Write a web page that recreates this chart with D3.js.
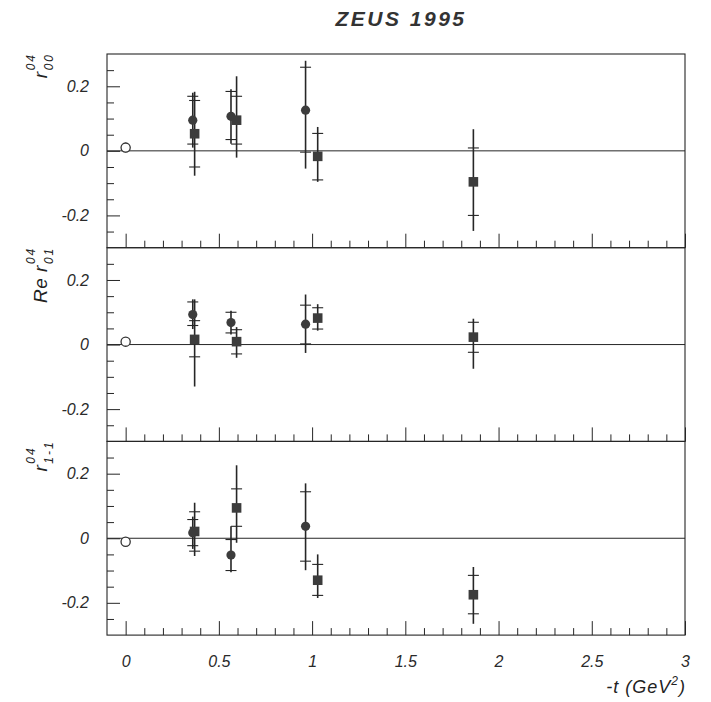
<!DOCTYPE html>
<html>
<head>
<meta charset="utf-8">
<script src="https://cdn.jsdelivr.net/npm/d3@7"></script>
<style>
  html, body { margin: 0; padding: 0; background: #fff; }
  svg text { font-family: "Liberation Sans", Arial, Helvetica, sans-serif; font-style: italic; fill: #222; }
</style>
</head>
<body>
<svg id="chart" width="711" height="702"></svg>
<script>
// -t values of the data points (GeV^2)
const openT = 0;
const circleT = [0.36, 0.565, 0.965];
const squareT = [0.37, 0.595, 1.03, 1.865];

// Panels: r^04_00, Re r^04_01, r^04_1-1
const labelMain = ["r", "Re r", "r"];
const labelSup = ["04", "04", "04"];
const labelSub = ["00", "01", "1-1"];

// Open point at -t = 0 (value, error) per panel
const openVal = [0.010, 0.009, -0.011];
const openErr = [0.015, 0, 0];

// Filled circles: values per panel, errors as [up, down]
const circleVal = [
  [0.095, 0.107, 0.126],
  [0.093, 0.068, 0.063],
  [0.017, -0.052, 0.037]
];
const circleStat = [
  [[0.074, 0.074], [0.077, 0.072], [0.133, 0.130]],
  [[0.039, 0.034], [0.032, 0.032], [0.059, 0.061]],
  [[0.041, 0.040], [0.048, 0.048], [0.107, 0.108]]
];
const circleTot = [
  [[0.085, 0.085], [0.084, 0.085], [0.153, 0.181]],
  [[0.047, 0.045], [0.037, 0.037], [0.092, 0.089]],
  [[0.050, 0.050], [0.089, 0.053], [0.133, 0.136]]
];

// Filled squares: values per panel, errors as [up, down]
const squareVal = [
  [0.053, 0.095, -0.017, -0.096],
  [0.016, 0.009, 0.082, 0.023],
  [0.021, 0.094, -0.130, -0.175]
];
const squareStat = [
  [[0.103, 0.103], [0.074, 0.074], [0.071, 0.073], [0.105, 0.104]],
  [[0.058, 0.054], [0.037, 0.038], [0.032, 0.034], [0.046, 0.047]],
  [[0.061, 0.061], [0.059, 0.057], [0.049, 0.047], [0.060, 0.059]]
];
const squareTot = [
  [[0.130, 0.130], [0.136, 0.116], [0.091, 0.079], [0.163, 0.152]],
  [[0.124, 0.146], [0.045, 0.050], [0.043, 0.039], [0.057, 0.098]],
  [[0.089, 0.076], [0.132, 0.108], [0.080, 0.055], [0.086, 0.090]]
];

// Axis ticks
const xMajor = [0, 0.5, 1, 1.5, 2, 2.5, 3];
const xTickLabels = ["0", "0.5", "1", "1.5", "2", "2.5", "3"];
const xMinor = d3.range(1, 30).map(i => i / 10).filter(v => Math.abs(v * 2 - Math.round(v * 2)) > 1e-6);
const yMajor = [-0.2, 0, 0.2];
const yTickLabels = ["-0.2", "0", "0.2"];
const yMinor = [-0.25, -0.15, -0.1, -0.05, 0.05, 0.1, 0.15, 0.25];

const svg = d3.select("#chart");
const left = 107, right = 685, top0 = 54, panelH = 193.7;
const ink = "#262626";

const x = d3.scaleLinear().domain([-0.1, 3]).range([left, right]);
const yScale = i => d3.scaleLinear().domain([-0.3, 0.3])
  .range([top0 + (i + 1) * panelH, top0 + i * panelH]);

// Title
svg.append("text")
  .attr("x", 401).attr("y", 26)
  .attr("text-anchor", "middle")
  .style("font-weight", "bold").style("font-size", "21px")
  .style("letter-spacing", "2.5px")
  .style("fill", "#333")
  .text("ZEUS 1995");

function styleAxis(g) {
  g.select(".domain").remove();
  g.selectAll(".tick line").attr("stroke", ink).attr("stroke-width", 1);
}

for (let p = 0; p < 3; p++) {
  const y = yScale(p);
  const pTop = top0 + p * panelH, pBot = pTop + panelH;
  const g = svg.append("g");

  // frame
  g.append("rect")
    .attr("x", left).attr("y", pTop)
    .attr("width", right - left).attr("height", panelH)
    .attr("fill", "none").attr("stroke", ink).attr("stroke-width", 1.1);

  // zero line
  g.append("line")
    .attr("x1", left).attr("x2", right)
    .attr("y1", y(0)).attr("y2", y(0))
    .attr("stroke", ink).attr("stroke-width", 1);

  // x ticks pointing up from the bottom edge
  g.append("g").attr("transform", `translate(0,${pBot})`)
    .call(d3.axisTop(x).tickValues(xMajor).tickSize(14).tickFormat(""))
    .call(styleAxis);
  g.append("g").attr("transform", `translate(0,${pBot})`)
    .call(d3.axisTop(x).tickValues(xMinor).tickSize(7).tickFormat(""))
    .call(styleAxis);

  // y ticks pointing right from the left edge
  g.append("g").attr("transform", `translate(${left},0)`)
    .call(d3.axisRight(y).tickValues(yMajor).tickSize(13).tickFormat(""))
    .call(styleAxis);
  g.append("g").attr("transform", `translate(${left},0)`)
    .call(d3.axisRight(y).tickValues(yMinor).tickSize(7).tickFormat(""))
    .call(styleAxis);

  // y tick labels
  const yl = g.append("g").attr("transform", `translate(${left},0)`)
    .call(d3.axisLeft(y).tickValues(yMajor).tickSize(0).tickPadding(18)
      .tickFormat((d, i) => yTickLabels[i]));
  yl.select(".domain").remove();
  yl.selectAll("text")
    .attr("font-family", null).attr("font-size", null)
    .style("font-size", "16px").style("fill", "#2a2a2a");

  // y axis title (rotated, with stacked super/subscript)
  const lab = g.append("g");
  const inner = lab.append("g");
  const main = inner.append("text").attr("x", 0).attr("y", 0)
    .style("font-size", "19px").style("letter-spacing", "0.5px").text(labelMain[p]);
  const mw = main.node().getComputedTextLength();
  inner.append("text").attr("x", mw + 1).attr("y", -12)
    .style("font-size", "12px").style("letter-spacing", "2px").text(labelSup[p]);
  inner.append("text").attr("x", mw + 1).attr("y", 6)
    .style("font-size", "12px").style("letter-spacing", "2px").text(labelSub[p]);
  const bb = inner.node().getBBox();
  lab.attr("transform", `translate(47,${pTop - 1 + bb.x + bb.width}) rotate(-90)`);

  // data
  const pts = [];
  circleT.forEach((t, i) => pts.push({ t, v: circleVal[p][i], stat: circleStat[p][i], tot: circleTot[p][i], kind: "circle" }));
  squareT.forEach((t, i) => pts.push({ t, v: squareVal[p][i], stat: squareStat[p][i], tot: squareTot[p][i], kind: "square" }));
  pts.push({ t: openT, v: openVal[p], stat: [openErr[p], openErr[p]], tot: [openErr[p], openErr[p]], kind: "open" });

  const eg = g.append("g");
  pts.forEach(d => {
    const cx = x(d.t);
    if (d.tot[0] > 0 || d.tot[1] > 0) {
      eg.append("line")
        .attr("x1", cx).attr("x2", cx)
        .attr("y1", y(d.v + d.tot[0])).attr("y2", y(d.v - d.tot[1]))
        .attr("stroke", ink).attr("stroke-width", 1.6);
    }
    if (d.kind !== "open") {
      [d.v + d.stat[0], d.v - d.stat[1]].forEach(vv => {
        eg.append("line")
          .attr("x1", cx - 5.5).attr("x2", cx + 5.5)
          .attr("y1", y(vv)).attr("y2", y(vv))
          .attr("stroke", ink).attr("stroke-width", 1.1);
      });
    }
  });

  const mg = g.append("g");
  pts.forEach(d => {
    const cx = x(d.t), cy = y(d.v);
    if (d.kind === "circle") {
      mg.append("circle").attr("cx", cx).attr("cy", cy).attr("r", 4.6)
        .attr("fill", "#3c3c3c");
    } else if (d.kind === "square") {
      mg.append("rect").attr("x", cx - 4.8).attr("y", cy - 4.8)
        .attr("width", 9.6).attr("height", 9.6).attr("fill", "#3c3c3c");
    } else {
      mg.append("circle").attr("cx", cx).attr("cy", cy).attr("r", 4.6)
        .attr("fill", "#fff").attr("stroke", "#333").attr("stroke-width", 1.3);
    }
  });
}

// x tick labels under the bottom panel
const bottom = top0 + 3 * panelH;
const xl = svg.append("g").attr("transform", `translate(0,${bottom})`)
  .call(d3.axisBottom(x).tickValues(xMajor).tickSize(0).tickPadding(21)
    .tickFormat((d, i) => xTickLabels[i]));
xl.select(".domain").remove();
xl.selectAll("text")
  .attr("font-family", null).attr("font-size", null)
  .style("font-size", "16px").style("fill", "#2a2a2a");

// x axis title
const xt = svg.append("text")
  .attr("x", 686).attr("y", 693)
  .attr("text-anchor", "end")
  .style("font-size", "18px").style("letter-spacing", "1px");
xt.append("tspan").text("-t (GeV");
xt.append("tspan").attr("dy", -8).style("font-size", "12px").text("2");
xt.append("tspan").attr("dy", 8).text(")");
</script>
</body>
</html>
